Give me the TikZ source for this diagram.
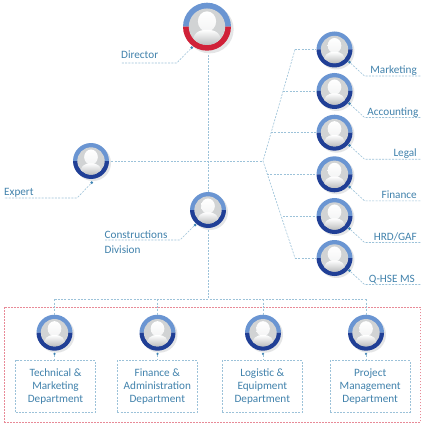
\documentclass[tikz,border=0pt]{standalone}
\usepackage{fontspec}
\setmainfont{Carlito}
\usetikzlibrary{calc}
\definecolor{ringtop}{HTML}{6A95D2}
\definecolor{ringbot}{HTML}{203F96}
\definecolor{ringred}{HTML}{D02138}
\definecolor{lineblue}{HTML}{9CC2D9}
\definecolor{dotblue}{HTML}{3F85B5}
\definecolor{textblue}{HTML}{4182AC}
\definecolor{discgray}{HTML}{D1D3D4}
\definecolor{shadowgray}{HTML}{E4E5E6}
\definecolor{redline}{HTML}{E88A97}
\tikzset{
  conn/.style={draw=lineblue,line width=0.6pt,dash pattern=on 2pt off 1.3pt},
  leader/.style={draw=lineblue,line width=0.6pt,dash pattern=on 2pt off 1.3pt},
  redframe/.style={draw=redline,line width=1pt,dash pattern=on 1.7pt off 1.3pt},
  deptbox/.style={draw=lineblue,line width=0.6pt,dash pattern=on 2pt off 1.3pt,minimum width=80pt,minimum height=51.5pt,inner sep=0pt,align=center,text=textblue,font=\fontsize{11.2}{13.1}\selectfont},
  lbl/.style={text=textblue,font=\fontsize{11.2}{13}\selectfont,inner sep=0pt},
  dotn/.style={circle,fill=dotblue,inner sep=0pt,minimum size=3pt},
  anchorc/.style={circle,inner sep=0pt,minimum size=#1}
}
% name, x, y, radius, lower ring colour
\newcommand{\avatarat}[5]{%
  \node[anchorc=#4*2pt] (#1) at (#2,#3) {};
  \begin{scope}[shift={(#2,#3)},x=#4*1pt,y=#4*1pt]
    \fill[shadowgray] (0.11,-0.11) circle[radius=1];
    \fill[ringtop] (-1,0) arc[start angle=180,end angle=0,radius=1] -- cycle;
    \fill[#5] (-1,0) arc[start angle=180,end angle=360,radius=1] -- cycle;
    \fill[discgray] (0,0) circle[radius=0.76];
    \begin{scope}
      \clip (0,0) circle[radius=0.76];
      \shade[top color=white,bottom color=white!75!discgray] (0,0.22) ellipse[x radius=0.38,y radius=0.42];
      \shade[top color=white,bottom color=discgray!90!black]
        (-0.58,-0.76) .. controls (-0.62,-0.3) and (-0.4,-0.13) .. (0,-0.13)
        .. controls (0.4,-0.13) and (0.62,-0.3) .. (0.58,-0.76) -- cycle;
    \end{scope}
  \end{scope}}
\begin{document}
\begin{tikzpicture}[x=1pt,y=-1pt]
\useasboundingbox (0,0) rectangle (425,425);
\fill[white] (0,0) rectangle (425,425);
\coordinate (hub) at (263,161);
\coordinate (bus) at (208.5,299.3);
\coordinate (busL) at (54.5,299.3);
\coordinate (busB) at (157.5,299.3);
\coordinate (busC) at (263,299.3);
\coordinate (busR) at (366,299.3);
\coordinate (upT) at (295,49.5);
\coordinate (lowB) at (295,258);
\coordinate (j2) at (283,91);
\coordinate (j3) at (271,132.7);
\coordinate (j4) at (267,174.3);
\coordinate (j5) at (283,216);
% frame
\node[redframe,minimum width=416.4pt,minimum height=115pt,inner sep=0pt] (frame) at (212.5,364.5) {};
% avatars
\avatarat{dir}{207}{26.7}{24}{ringred}
\avatarat{exp}{91}{161}{18}{ringbot}
\avatarat{con}{208}{210}{18}{ringbot}
\avatarat{r1}{334.5}{49.5}{18}{ringbot}
\avatarat{r2}{334.5}{91}{18}{ringbot}
\avatarat{r3}{334.5}{132.7}{18}{ringbot}
\avatarat{r4}{334.5}{174.3}{18}{ringbot}
\avatarat{r5}{334.5}{216}{18}{ringbot}
\avatarat{r6}{334.5}{258}{18}{ringbot}
\avatarat{b1}{54.5}{332.7}{18}{ringbot}
\avatarat{b2}{157.5}{332.7}{18}{ringbot}
\avatarat{b3}{263}{332.7}{18}{ringbot}
\avatarat{b4}{366}{332.7}{18}{ringbot}
% connectors
\draw[conn] (dir.south -| bus) ++(0,4) -- (con.north -| bus);
\draw[conn] (con.south -| bus) ++(0,2) -- (bus);
\draw[conn] (exp.east) ++(2,0) -- (hub);
\draw[conn] (upT) -- (hub) -- (lowB);
\draw[conn] (upT) -- (r1.west);
\draw[conn] (j2) -- (r2.west);
\draw[conn] (j3) -- (r3.west);
\draw[conn] (j4) -- (r4.west);
\draw[conn] (j5) -- (r5.west);
\draw[conn] (lowB) -- (r6.west);
\draw[conn] (busL) -- (busR);
\draw[conn] (busL) -- (b1.north);
\draw[conn] (busB) -- (b2.north);
\draw[conn] (busC) -- (b3.north);
\draw[conn] (busR) -- (b4.north);
% department boxes
\node[deptbox] (d1) at (55.5,386.5) {Technical \&\\Marketing\\Department};
\node[deptbox] (d2) at (157.3,386.5) {Finance \&\\Administration\\Department};
\node[deptbox] (d3) at (262.3,386.5) {Logistic \&\\Equipment\\Department};
\node[deptbox] (d4) at (370.2,386.5) {Project\\Management\\Department};
\foreach \a/\b in {b1/d1,b2/d2,b3/d3,b4/d4}{
  \node[dotn,minimum size=2.5pt] (\a dot) at ([yshift=-3pt]\a.south) {};
  \draw[conn] (\a dot) -- (\a dot |- \b.north);
}
% leaders and labels
\node[dotn] (ldir) at (191.7,47.7) {};
\coordinate (ldirA) at (176.7,63); \coordinate (ldirB) at (121,63);
\draw[leader] (ldir) -- (ldirA) -- (ldirB);
\node[lbl,anchor=base west] (tdir) at (121,59) {Director};
\node[dotn] (lexp) at (91.7,182.7) {};
\coordinate (lexpA) at (77,198); \coordinate (lexpB) at (4,198);
\draw[leader] (lexp) -- (lexpA) -- (lexpB);
\node[lbl,anchor=base west] (texp) at (4,195) {Expert};
\node[dotn] (lcon) at (195,225) {};
\coordinate (lconA) at (180,240); \coordinate (lconB) at (104,240);
\draw[leader] (lcon) -- (lconA) -- (lconB);
\node[lbl,anchor=base west] (tcon1) at (104.5,238) {Constructions};
\node[lbl,anchor=base west] (tcon2) at (104.5,253) {Division};
\foreach \n/\t/\xe in {1/Marketing/417,2/Accounting/418.5,3/Legal/417,4/Finance/417,5/HRD\slash GAF/417,6/Q-HSE MS/415}{
  \node[dotn] (lr\n) at ($(r\n.center)+(15,12.7)$) {};
  \coordinate (lr\n a) at ($(r\n.center)+(30,26.5)$);
  \coordinate (lr\n b) at ($(r\n.center)+(86,26.5)$);
  \draw[leader] (lr\n) -- (lr\n a) -- (lr\n b);
  \node[lbl,anchor=base east] (tr\n) at ($(r\n.center)+(\xe-334.5,24)$) {\t};
}
\end{tikzpicture}
\end{document}
